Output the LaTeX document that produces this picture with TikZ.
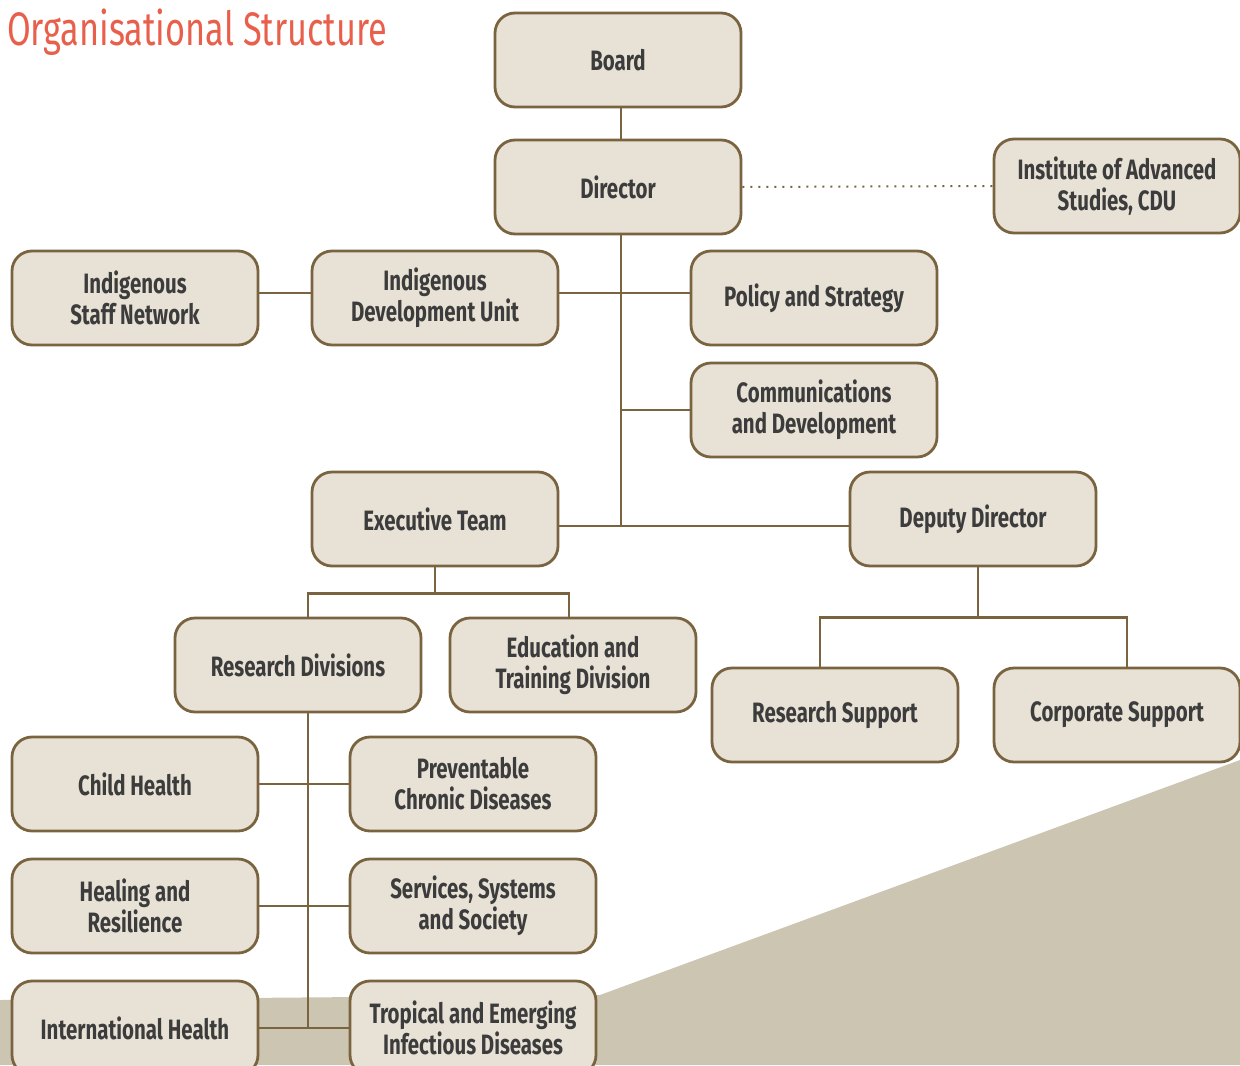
\documentclass[tikz,border=0pt]{standalone}
\usepackage{fontspec}
\newfontfamily\orgfont{Fira Sans}[FakeStretch=0.73]
\usetikzlibrary{shapes,positioning}
\definecolor{boxfill}{HTML}{E8E2D6}
\definecolor{boxline}{HTML}{7A6440}
\definecolor{titlered}{HTML}{E8604C}
\definecolor{textgrey}{HTML}{3C3C3C}
\definecolor{ground}{HTML}{CCC5B2}
\tikzset{
    block/.style = {draw=boxline,
                    fill=boxfill,
                    line width=1.4pt,
                    rectangle,
                    rounded corners=10pt,
                    minimum height=47pt,
                    minimum width=123pt,
                    align=center,
                    text=textgrey,
                    font=\orgfont\bfseries\fontsize{14}{15.5}\selectfont,
                    node distance=61pt
    },
    link/.style = {draw=boxline, line width=1.3pt}
}

\begin{document}
\begin{tikzpicture}[x=0.5pt, y=-0.5pt]
    \useasboundingbox (0,0) rectangle (1240,1065);
    \fill[ground] (1240,760) -- (600,995) -- (0,1000) -- (0,1065) -- (1240,1065) -- cycle;

    \node [anchor=base west, text=titlered, font=\orgfont\fontsize{23.5}{28}\selectfont]
          (title) at (0,46) {Organisational Structure};

    \node [block] at (618,60)                          (board)     {Board};
    \node [block,below of=board,node distance=63.5pt]  (director)  {Director};
    \node [block] at (1117,186)                        (institute) {Institute of Advanced\\Studies, CDU};
    \node [block] at (135,298)                         (staff)     {Indigenous\\Staff Network};
    \node [block] at (435,298)                         (idu)       {Indigenous\\Development Unit};
    \node [block] at (814,298)                         (policy)    {Policy and Strategy};
    \node [block,below of=policy,node distance=56pt]   (comm)      {Communications\\and Development};
    \node [block] at (435,519)                         (exec)      {Executive Team};
    \node [block] at (973,519)                         (deputy)    {Deputy Director};
    \node [block] at (298,665)                         (research)  {Research Divisions};
    \node [block] at (573,665)                         (education) {Education and\\Training Division};
    \node [block] at (835,715)                         (ressup)    {Research Support};
    \node [block] at (1117,715)                        (corpsup)   {Corporate Support};
    \node [block] at (135,784)                         (child)     {Child Health};
    \node [block,below of=child]                       (healing)   {Healing and\\Resilience};
    \node [block,below of=healing]                     (intl)      {International Health};
    \node [block] at (473,784)                         (chronic)   {Preventable\\Chronic Diseases};
    \node [block,below of=chronic]                     (services)  {Services, Systems\\and Society};
    \node [block,below of=services]                    (tropical)  {Tropical and Emerging\\Infectious Diseases};

    % director and its staff units
    \draw[link] ([xshift=1.5pt]board.south) -- ([xshift=1.5pt]director.north);
    \draw[link] ([xshift=1.5pt]director.south) coordinate (trunk) -- (trunk |- 0,526);
    \draw[link, line width=1pt, dash pattern=on 1pt off 3pt] (director.east) -- (institute.west);
    \draw[link] ([yshift=2.5pt]staff.east) -- ([yshift=2.5pt]idu.west);
    \draw[link] ([yshift=2.5pt]idu.east) -- ([yshift=2.5pt]policy.west);
    \draw[link] (trunk |- comm.west) -- (comm.west);
    \draw[link] ([yshift=-3.5pt]exec.east) -- ([yshift=-3.5pt]deputy.west);

    % executive team and deputy director
    \draw[link] (exec.south) -- ++(0,26) coordinate (execfork);
    \draw[link] ([xshift=5pt]research.north) |- (execfork) -| ([xshift=-2pt]education.north);
    \draw[link] ([xshift=2.5pt]deputy.south) -- ++(0,50) coordinate (depfork);
    \draw[link] ([xshift=-7.5pt]ressup.north) |- (depfork) -| ([xshift=5pt]corpsup.north);

    % research divisions
    \draw[link] ([xshift=5pt]research.south) coordinate (divtrunk) -- (divtrunk |- intl.east);
    \draw[link] (child) -- (chronic);
    \draw[link] (healing) -- (services);
    \draw[link] (intl) -- (tropical);
\end{tikzpicture}
\end{document}
